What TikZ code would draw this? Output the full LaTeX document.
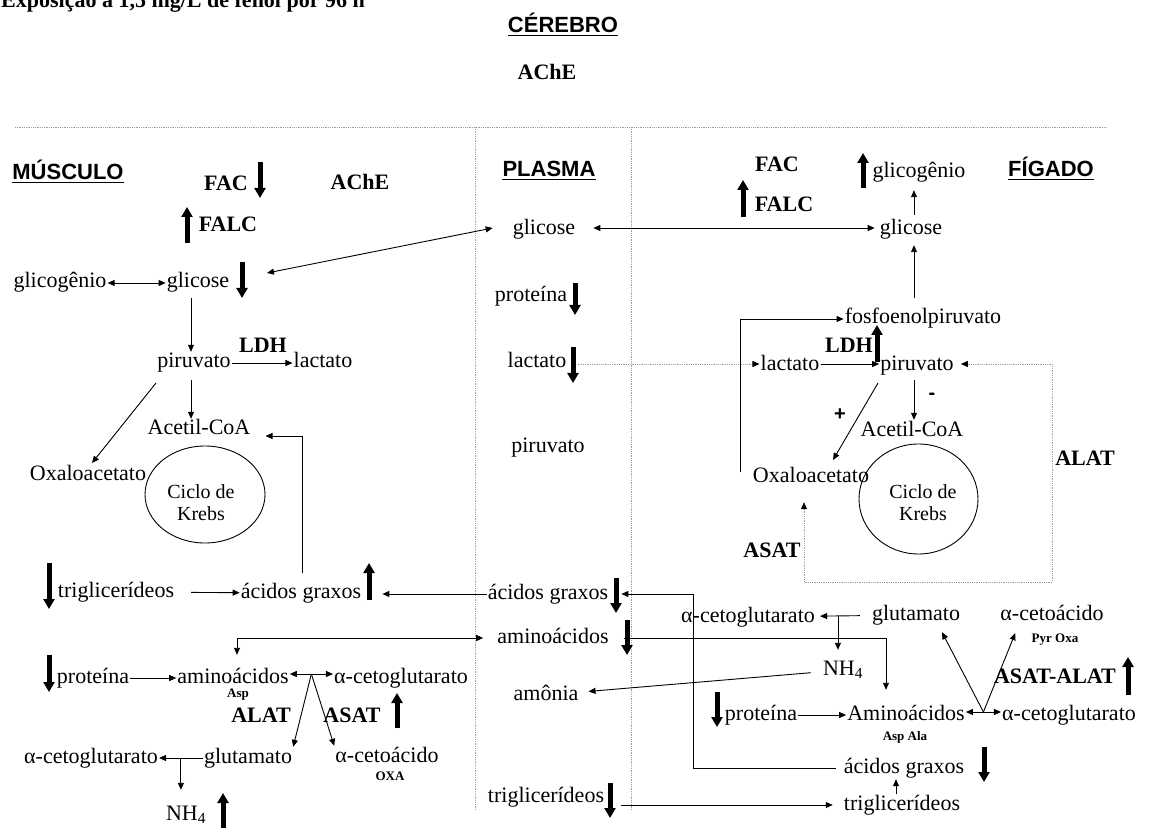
\documentclass[tikz,border=0pt]{standalone}
\usepackage{fontspec}
\setmainfont{Liberation Serif}
\newfontfamily\hdfont{Liberation Sans}
\usetikzlibrary{arrows.meta,calc,shapes.geometric}
\begin{document}
\begin{tikzpicture}[x=1pt,y=-1pt,
  >={Triangle[length=7pt,width=6pt]},
  lbl/.style={font=\fontsize{22}{26}\selectfont, text height=15pt, text depth=5pt, inner sep=1pt},
  bl/.style={lbl, font=\fontsize{22}{26}\selectfont\bfseries},
  sm/.style={font=\fontsize{13}{15}\selectfont\bfseries, text height=9pt, text depth=3pt, inner sep=1pt},
  hd/.style={anchor=base, inner sep=0pt, font=\hdfont\bfseries\fontsize{22}{26}\selectfont},
  sgn/.style={inner sep=0pt, font=\hdfont\bfseries\fontsize{20}{24}\selectfont},
  ul/.style={line width=1.2pt},
  link/.style={line width=0.9pt},
  dots/.style={gray!75, line width=0.8pt, dash pattern=on 0.8pt off 1pt},
  dotarrow/.style={dots, >={Triangle[length=7pt,width=6pt,color=black]}},
  ind/.style={line width=5pt, -{Triangle[length=10pt,width=11pt]}},
  kr/.style={font=\fontsize{20}{24}\selectfont, anchor=base, inner sep=0pt},
  cyc/.style={draw, ellipse, line width=0.9pt, inner sep=0pt},
]
\useasboundingbox (0,0) rectangle (1152,834);
\clip (0,0) rectangle (1152,834);

% title and compartment headings
\node[anchor=base west, inner sep=0pt, font=\fontsize{22}{26}\selectfont\bfseries] (title) at (1,8) {Exposição a 1,5 mg/L de fenol por 96 h};
\node[hd] (cerebro) at (563,33) {CÉREBRO};
\node[anchor=base, inner sep=0pt, font=\fontsize{22}{26}\selectfont\bfseries] (acheC) at (547,80) {AChE};
\node[hd] (musculo) at (68,180) {MÚSCULO};
\node[hd] (plasma) at (549,177) {PLASMA};
\node[hd] (figado) at (1051,177) {FÍGADO};
\foreach \h in {cerebro,musculo,plasma,figado}
  \draw[ul] ([yshift=-2.5pt]\h.base west) -- ([yshift=-2.5pt]\h.base east);

% compartment separators
\draw[dots] (15,127) -- (1107,127);
\draw[dots] (475,127) -- (475,810);
\draw[dots] (631,127) -- (631,810);

% ---------- muscle ----------
\node[bl] (facM) at (226,186) {FAC};
\node[bl] (acheM) at (360,185) {AChE};
\node[bl] (falcM) at (228,227) {FALC};
\node[lbl] (glicogM) at (60,283) {glicogênio};
\node[lbl] (glicM) at (198,283) {glicose};
\node[lbl] (piruvM) at (194,363) {piruvato};
\node[bl] (ldhM) at (263,348) {LDH};
\node[lbl] (lactM) at (323,363) {lactato};
\node[lbl] (acetM) at (199,430) {Acetil-CoA};
\node[lbl] (oxaloM) at (88,475) {Oxaloacetato};
\node[cyc, minimum width=120pt, minimum height=97pt] (krebsM) at (205,494.5) {};
\node[kr] (krebsMa) at (201,498) {Ciclo de};
\node[kr] (krebsMb) at (201,520) {Krebs};
\node[lbl] (triM) at (116,592) {triglicerídeos};
\node[lbl] (acgM) at (301,593) {ácidos graxos};
\node[lbl] (protM) at (93,678) {proteína};
\node[lbl] (aminoM) at (233,678) {aminoácidos};
\node[lbl] (cglM) at (401,678) {α-cetoglutarato};
\node[sm] (aspM) at (238,694) {Asp};
\node[bl] (alatM) at (261,717) {ALAT};
\node[bl] (asatM) at (352,717) {ASAT};
\node[lbl] (cgl2M) at (91,758) {α-cetoglutarato};
\node[lbl] (glutM) at (248,758) {glutamato};
\node[lbl] (cacM) at (387,757) {α-cetoácido};
\node[sm] (oxaM) at (390,777) {OXA};
\node[lbl] (nh4M) at (186,815) {NH\textsubscript{4}};

% ---------- plasma ----------
\node[lbl] (glicP) at (544,230) {glicose};
\node[lbl] (protP) at (531,297) {proteína};
\node[lbl] (lactP) at (537,363) {lactato};
\node[lbl] (piruvP) at (548,447) {piruvato};
\node[lbl] (acgP) at (548,594) {ácidos graxos};
\node[lbl] (aminoP) at (553,638) {aminoácidos};
\node[lbl] (amonP) at (546,695) {amônia};
\node[lbl] (triP) at (546,797) {triglicerídeos};

% ---------- liver ----------
\node[bl] (facL) at (777,167) {FAC};
\node[bl] (falcL) at (784,207) {FALC};
\node[lbl] (glicogL) at (919,173) {glicogênio};
\node[lbl] (glicL) at (911,230) {glicose};
\node[lbl] (fosfoL) at (923,319) {fosfoenolpiruvato};
\node[bl] (ldhL) at (849,348) {LDH};
\node[lbl] (lactL) at (790,366) {lactato};
\node[lbl] (piruvL) at (917,366) {piruvato};
\node[sgn] (minus) at (932,396) {-};
\node[sgn] (plus) at (840,415) {+};
\node[lbl] (acetL) at (912,431) {Acetil-CoA};
\node[lbl] (oxaloL) at (811,477) {Oxaloacetato};
\node[cyc, minimum width=119pt, minimum height=110pt] (krebsL) at (918.5,499) {};
\node[kr] (krebsLa) at (923,498) {Ciclo de};
\node[kr] (krebsLb) at (923,520) {Krebs};
\node[bl] (alatL) at (1085,460) {ALAT};
\node[bl] (asatL) at (772,552) {ASAT};
\node[lbl] (cglL1) at (748,617) {α-cetoglutarato};
\node[lbl] (glutL) at (916,615) {glutamato};
\node[lbl] (cacL) at (1052,615) {α-cetoácido};
\node[sm] (pyrL) at (1055,639) {Pyr Oxa};
\node[lbl] (nh4L) at (843,670) {NH\textsubscript{4}};
\node[bl] (asalL) at (1055,678) {ASAT-ALAT};
\node[lbl] (protL) at (761,715) {proteína};
\node[lbl] (aminoL) at (906,715) {Aminoácidos};
\node[sm] (aspalaL) at (905,737) {Asp Ala};
\node[lbl] (cglL2) at (1069,715) {α-cetoglutarato};
\node[lbl] (acgL) at (904,768) {ácidos graxos};
\node[lbl] (triL) at (902,805) {triglicerídeos};

% ---------- connectors: muscle ----------
\draw[link,<->] (glicogM) -- (glicM);
\coordinate (gMend) at (267,273);
\draw[link,<->] (gMend) -- ($(glicP.west)+(-19,-2)$);
\coordinate (m1) at ($(glicM.south)+(-7,4)$);
\draw[link,->] (m1) -- (m1 |- piruvM.north);
\draw[link,->] (piruvM) -- (lactM);
\coordinate (m2) at ($(piruvM.south)+(-3,6)$);
\draw[link,->] (m2) -- (m2 |- acetM.north);
\draw[link,->] ($(piruvM.center)+(-38,20)$) -- ($(oxaloM.center)+(4,-12)$);
\coordinate (m3) at ($(acgM.north)+(1,-9)$);
\draw[link,->] (m3) |- ($(acetM.east)+(14,6)$);
\draw[link,->,shorten <=16pt] (triM) -- (acgM);
\draw[link,->] (acgP.west) -- ($(acgM.east |- acgP.west)+(20,0)$);
\draw[link,<->] ($(aminoP.west)+(-13,0)$) -| ($(aminoM.north)+(4,-12)$);
\draw[link,->] (protM) -- (aminoM);
\draw[link,<->] ($(aminoM.east)+(0,-4)$) -- ($(cglM.west)+(0,-4)$);
\coordinate (jM) at ($(aminoM.east)!0.5!(cglM.west)+(0,-4)$);
\draw[link,->] (jM) -- (glutM.north east);
\draw[link,->] (jM) -- (cacM.north west);
\draw[link,->] (glutM) -- (cgl2M);
\coordinate (bM) at ($(cgl2M.east)!0.5!(glutM.west)$);
\draw[link,->] (bM) -- ($(bM |- nh4M.north)+(0,-14)$);

% ---------- connectors: plasma and liver ----------
\draw[link,<->] ($(glicP.east)+(17,-2)$) -- ($(glicL.west)+(-4,-2)$);
\draw[dotarrow,->] ($(lactP.east)+(10,1)$) -- ($(lactL.west)+(0,-2)$);
\draw[link,->] ($(lactL.east)+(0,-2)$) -- ($(piruvL.west)+(0,-2)$);
\coordinate (l1) at ($(piruvL.south)+(-3,3)$);
\draw[link,->] (l1) -- (l1 |- acetL.north);
\draw[link,->] ($(piruvL.center)+(-39,17)$) -- ($(oxaloL.center)+(22,-17)$);
\draw[link,->] ($(oxaloL.west)+(-11,-5)$) |- (fosfoL.west);
\coordinate (l2) at ($(fosfoL.north)+(-9,-10)$);
\draw[link,->] (l2) -- ($(l2 |- glicL.south)+(0,4)$);
\coordinate (l3) at ($(glicL.north)+(3,-4)$);
\draw[link,->] (l3) -- ($(l3 |- glicogL.south)+(0,6)$);
\coordinate (dR) at (1052,582);
\coordinate (dL) at (804,582);
\draw[dotarrow,<->] ($(piruvL.east)+(6,-2)$) -| (dR) -- (dL) -- ($(dL |- oxaloL.south)+(0,14)$);
\draw[link,->,shorten <=11pt,shorten >=4pt] (glutL) -- (cglL1);
\coordinate (bL) at ($(cglL1.east)!0.4!(glutL.west)$);
\draw[link,->] (bL) -- ($(bL |- nh4L.north)+(0,-9)$);
\draw[link,->,shorten <=11pt,shorten >=9pt] (nh4L) -- (amonP);
\draw[link,->] ($(aminoP.east)+(14,0)$) -| ($(aminoL.north)+(-20,-14)$);
\draw[link,->] (protL) -- (aminoL);
\draw[link,<->] ($(aminoL.east)+(0,-3)$) -- ($(cglL2.west)+(0,-3)$);
\coordinate (jL) at ($(aminoL.east)!0.5!(cglL2.west)+(0,-3)$);
\draw[link,->] (jL) -- ($(glutL.south)+(26,6)$);
\draw[link,->] (jL) -- ($(cacL.south west)+(16,7)$);
\coordinate (kx) at (693,594);
\draw[link,->] ($(acgL.west)+(-7,0)$) -| (kx) -- ($(acgP.east)+(12,0)$);
\draw[link,->] ($(triP.east |- triL.west)+(16,0)$) -- ($(triL.west)+(-10,0)$);
\coordinate (l4) at ($(triL.north)+(-6,0)$);
\draw[link,->] (l4) -- (l4 |- acgL.south);

% ---------- increase / decrease markers ----------
\foreach \x/\ya/\yb in {
  260/162/198, 187/243/207, 242/262/298, 49/563/609, 369/600/563,
  49/655/692, 397/728/693, 223/828/793,
  575/283/315, 573/347/383, 616/578/613, 627/620/655, 610/783/818,
  743/217/180, 863/188/153, 877/362/325, 1128/695/657, 984/747/782,
  717/692/727}
  \draw[ind] (\x,\ya) -- (\x,\yb);
\end{tikzpicture}
\end{document}
